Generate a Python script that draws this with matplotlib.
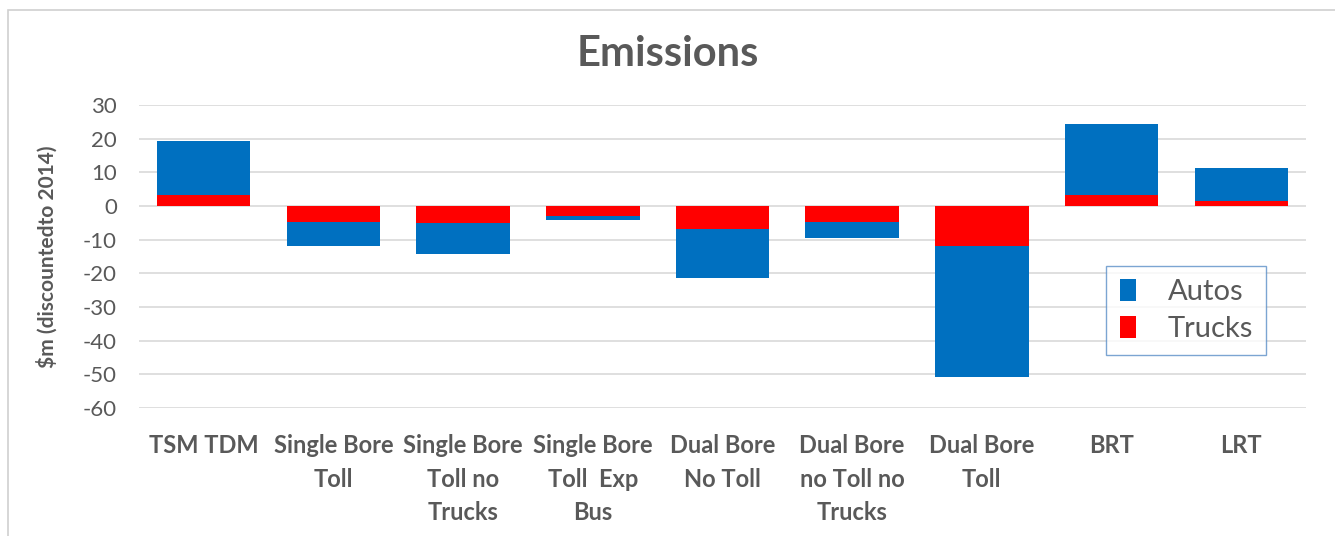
import matplotlib.pyplot as plt
from matplotlib.patches import Rectangle

scenarios = ["TSM TDM", "Single Bore\nToll", "Single Bore\nToll no\nTrucks",
             "Single Bore\nToll  Exp\nBus", "Dual Bore\nNo Toll", "Dual Bore\nno Toll no\nTrucks",
             "Dual Bore\nToll", "BRT", "LRT"]

# $m discounted to 2014
trucks = [3.3, -4.9, -5.1, -2.9, -6.8, -4.7, -11.9, 3.3, 1.5]
autos = [16.1, -7.0, -9.2, -1.4, -14.7, -4.7, -38.9, 21.0, 9.9]

grey = '#595959'
plt.rcParams['font.family'] = ['Lato', 'DejaVu Sans']
plt.rcParams['axes.unicode_minus'] = False

fig = plt.figure(figsize=(13.35, 5.36), dpi=100)
ax = fig.add_axes([0.1041, 0.2388, 0.8742, 0.5653])

# chart frame
fig.patches.append(Rectangle((8 / 1335, -0.01), 1.0, 1 - 10 / 536 + 0.01,
                             transform=fig.transFigure, fill=False,
                             edgecolor='#D0D0D0', linewidth=1.2))

x = range(len(scenarios))
ax.bar(x, trucks, width=0.72, color='#FF0000', label='Trucks', zorder=3)
ax.bar(x, autos, width=0.72, bottom=trucks, color='#0070C0', label='Autos', zorder=3)

ax.set_xlim(-0.5, len(scenarios) - 0.5)
ax.set_ylim(-60, 30)
ax.set_yticks(range(-60, 31, 10))
ax.yaxis.grid(True, color='#D9D9D9', linewidth=1.2, zorder=0)
for s in ax.spines.values():
    s.set_visible(False)
ax.tick_params(axis='both', length=0, colors=grey)
ax.tick_params(axis='y', labelsize=16, pad=16)

ax.set_xticks(list(x))
ax.set_xticklabels(scenarios, fontsize=17, fontweight='bold', color=grey,
                   linespacing=1.55, va='top')
ax.tick_params(axis='x', pad=19)

ax.set_ylabel('$m (discountedto 2014)', fontsize=15, fontweight='bold', color=grey)
ax.yaxis.set_label_coords(-0.07, 0.5)

fig.text(0.5, 0.9, 'Emissions', ha='center', va='center',
         fontsize=30, fontweight='bold', color=grey)

handles, labels = ax.get_legend_handles_labels()
leg = ax.legend(handles[::-1], labels[::-1], loc='upper left',
                bbox_to_anchor=(0.829, 0.469), fontsize=21, frameon=True,
                fancybox=False, edgecolor='#5B8FC7', handlelength=0.55,
                handleheight=0.8, handletextpad=1.1, borderpad=0.45,
                labelspacing=0.35, borderaxespad=0)
leg.get_frame().set_linewidth(1.0)
for t in leg.get_texts():
    t.set_color(grey)

plt.savefig('out.png', dpi=100)
